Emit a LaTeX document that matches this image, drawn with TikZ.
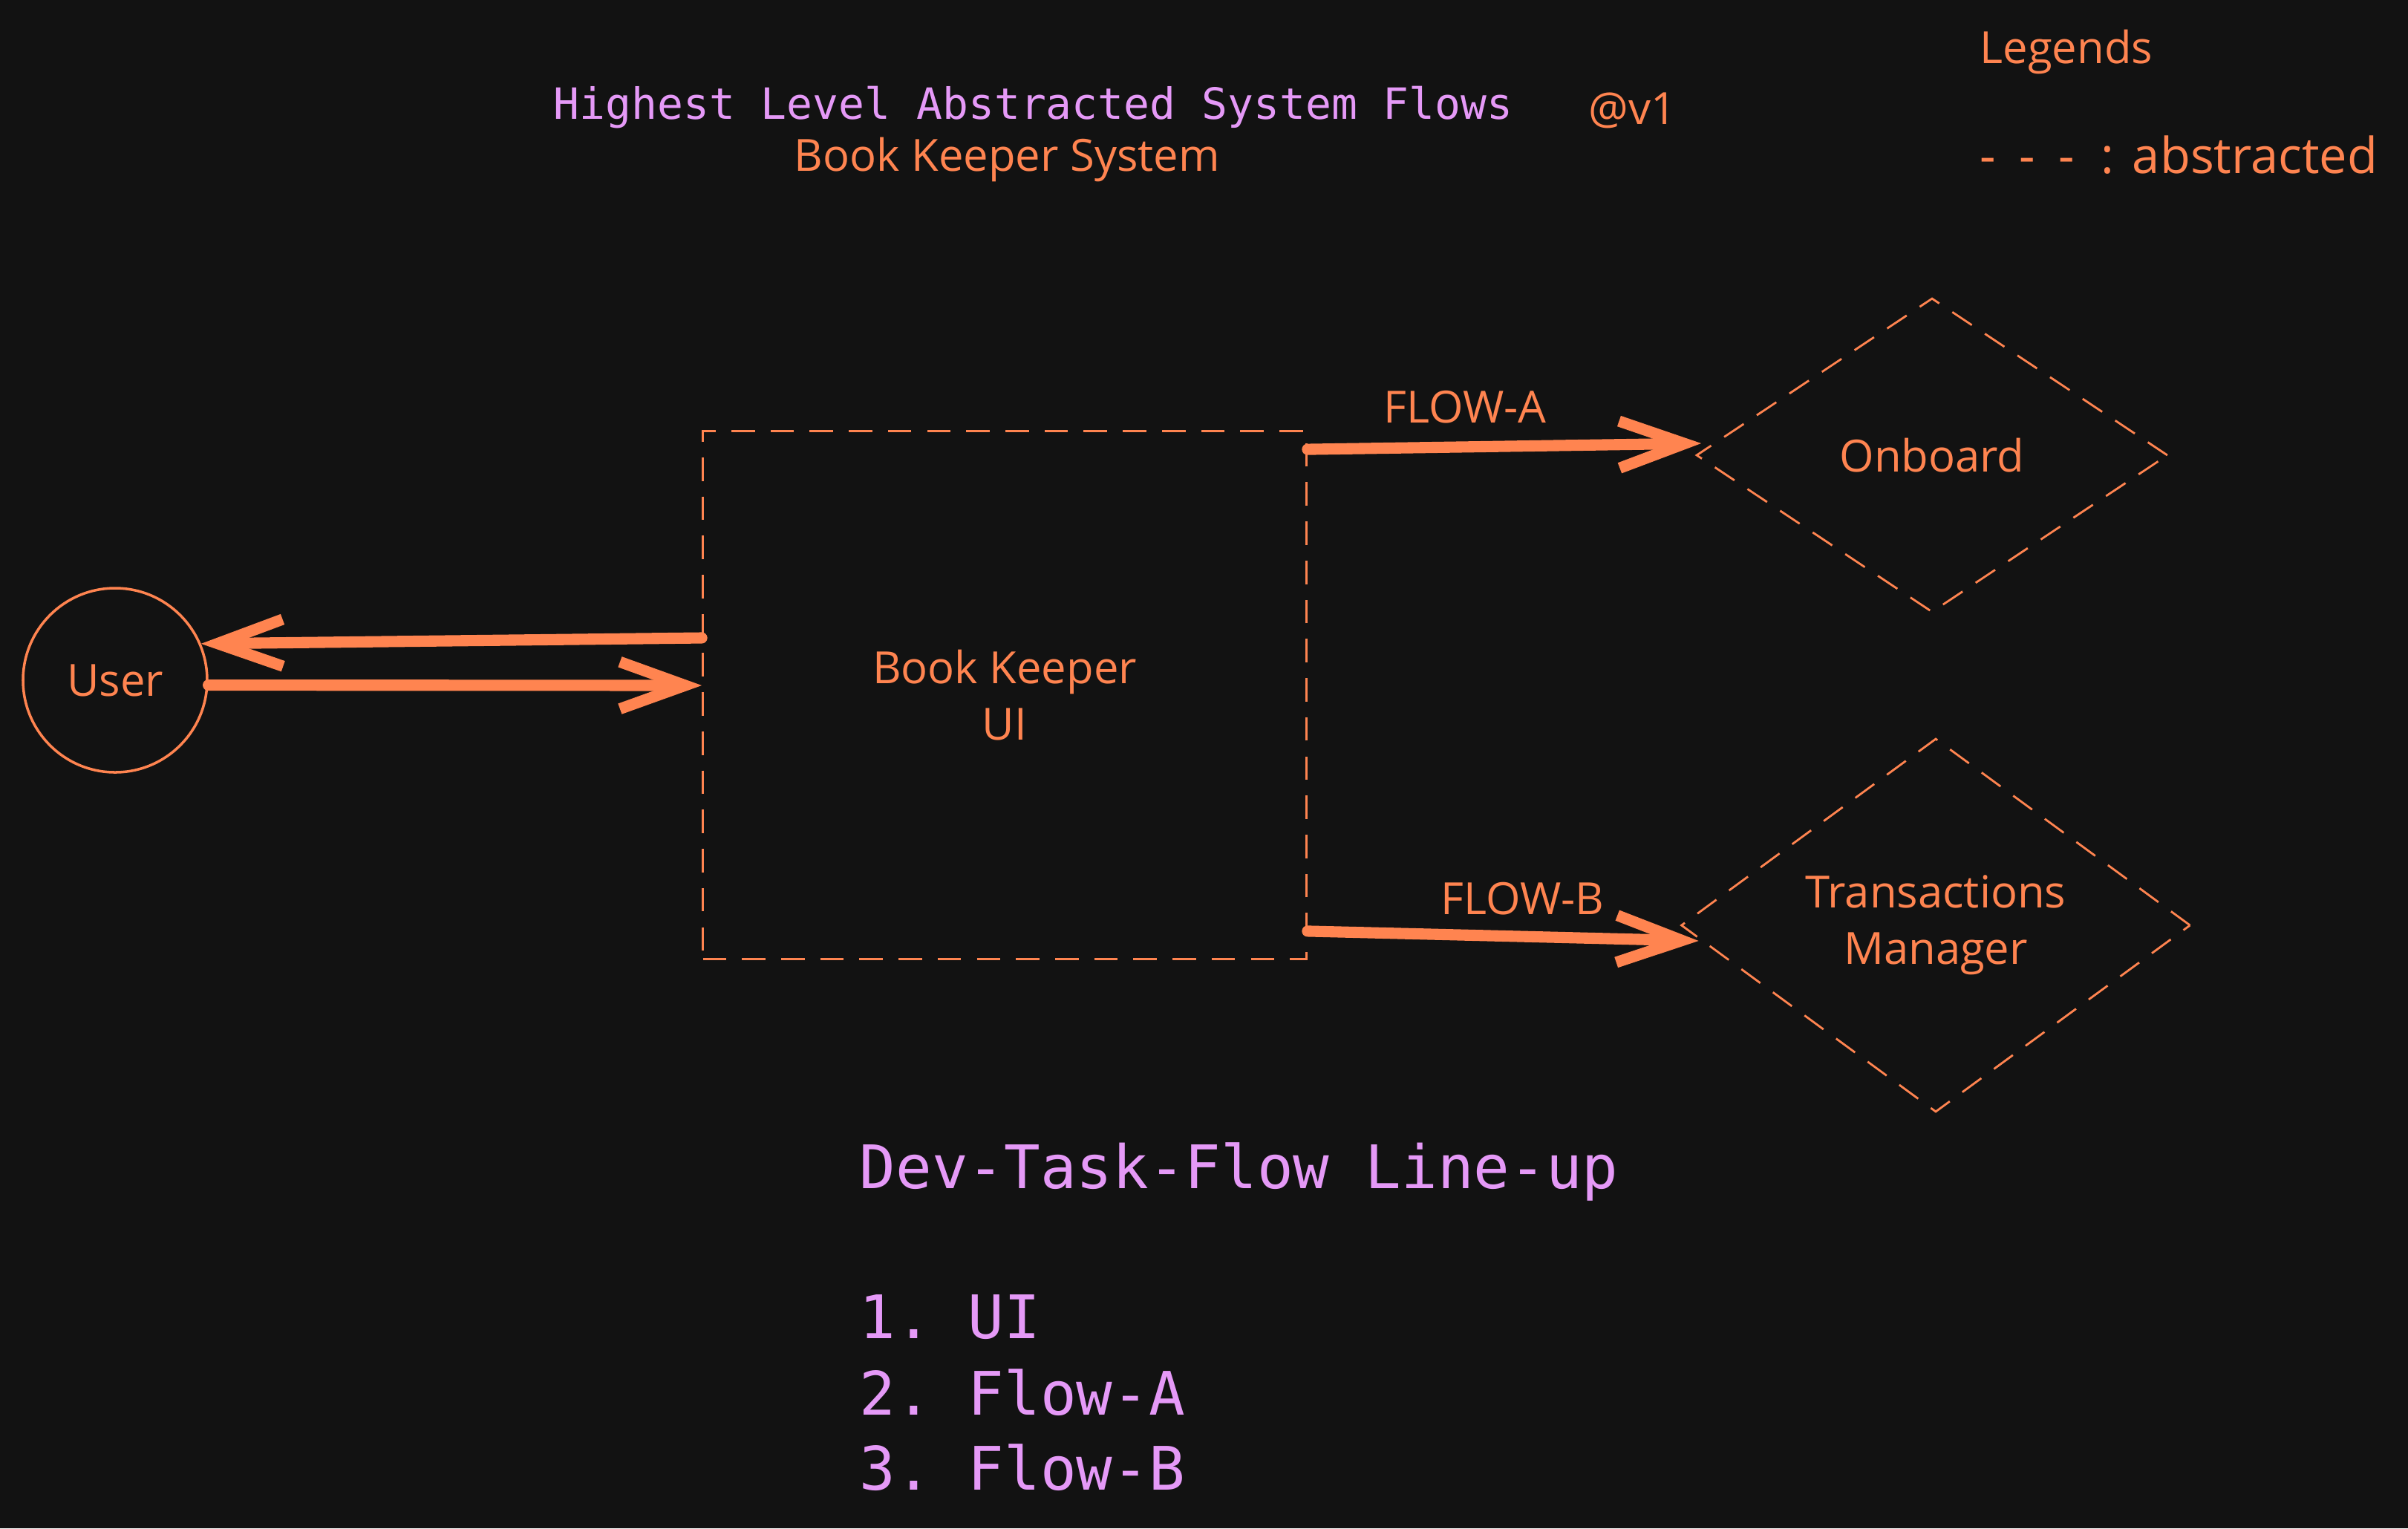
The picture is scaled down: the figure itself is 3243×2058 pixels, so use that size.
\documentclass[tikz,border=0pt]{standalone}
\usepackage{fontspec}
\setmainfont{Open Sans}
\newfontfamily\monofont{DejaVu Sans Mono}
\usetikzlibrary{arrows.meta,positioning,shapes.geometric}
\definecolor{bgdark}{HTML}{121212}
\definecolor{sketch}{HTML}{FF8450}
\definecolor{lilac}{HTML}{E599F7}
\tikzset{
	hand/.style={text=sketch, font=\fontsize{17}{21.5}\selectfont},
	mono/.style={text=lilac, font=\monofont\fontsize{16.5}{20}\selectfont},
	lineup/.style={text=lilac, font=\monofont\fontsize{23}{28}\selectfont, anchor=base west, inner sep=0pt},
	abstract/.style={draw=sketch, line width=0.8pt, dash pattern=on 9pt off 6pt},
	flow/.style={draw=sketch, line width=4.3pt, line cap=round, -{Straight Barb[length=25pt,width=18pt]}},
}
\begin{document}
\begin{tikzpicture}[x=0.1mm, y=-0.1mm]
		\fill[bgdark] (0,0) rectangle (3243,2058);
		% headings
		\node[mono, anchor=base west, inner sep=0pt] (title) at (745,160) {Highest Level Abstracted System Flows};
		\node[hand, anchor=base west, inner sep=0pt] (ver) at (2139,167) {@v1};
		\node[hand, anchor=base west, inner sep=0pt] (sys) at (1069,230) {Book Keeper System};
		% legend
		\node[hand, anchor=base west, inner sep=0pt] (leg) at (2666,85) {Legends};
		\node[hand, font=\fontsize{19}{22}\selectfont, anchor=base west, inner sep=0pt] (abs) at (2666,233)
			{-\hspace{9pt}-\hspace{9pt}-\hspace{10pt}:\hspace{7pt}abstracted};
		% blocks
		\node[abstract, hand, align=center, minimum width=8.13cm, minimum height=7.11cm] (bk) at (1353,936) {Book Keeper\\UI};
		\node[circle, draw=sketch, line width=1pt, hand, minimum size=2.48cm, inner sep=0pt] (user) at (155,916) {User};
		\node[diamond, abstract, hand, minimum width=6.35cm, minimum height=4.23cm, aspect=1.5, inner sep=0pt] (onb) at (2602,613) {Onboard};
		\node[diamond, abstract, hand, align=center, minimum width=6.86cm, minimum height=5.03cm, aspect=1.36, inner sep=0pt] (tm) at (2607,1246) {Transactions\\Manager};
		% flows
		\draw[flow] ([yshift=7.7mm]bk.west) -- (user.23);
		\draw[flow] (user.-3) -- ([yshift=1.3mm]bk.west);
		\draw[flow] ([yshift=-2.6mm]bk.north east) -- node[hand, pos=0.4, above=1.3mm] (fa) {FLOW-A} ([xshift=0.8mm, yshift=1.6mm]onb.west);
		\draw[flow] ([yshift=3.9mm]bk.south east) -- node[hand, pos=0.55, above=1mm] (fb) {FLOW-B} ([xshift=2.5mm, yshift=-2.1mm]tm.west);
		% task line-up
		\node[lineup] (task) at (1157,1600) {Dev-Task-Flow Line-up};
		\node[lineup] (t1) at (1157,1802) {1.\ UI};
		\node[lineup] (t2) at (1157,1905) {2.\ Flow-A};
		\node[lineup] (t3) at (1157,2006) {3.\ Flow-B};
\end{tikzpicture}
\end{document}
